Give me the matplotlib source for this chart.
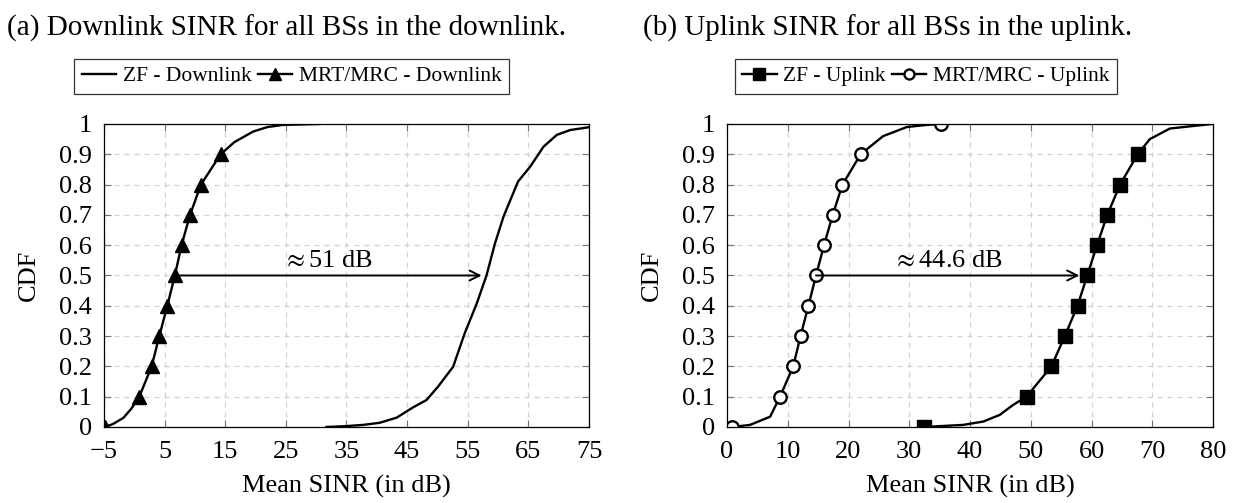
import matplotlib
matplotlib.use('Agg')
import matplotlib.pyplot as plt

plt.rcParams['font.family'] = ['Liberation Serif', 'DejaVu Serif']
plt.rcParams['mathtext.fontset'] = 'stix'

# (a) downlink curves
mrt_dl_x = [-4.8, -3.5, -1.8, -0.5, 0.83, 2.87, 4.13, 5.45, 6.7, 7.8, 9.2, 11.0, 14.25,
            16.5, 19.6, 22.0, 24.5, 30.6]
mrt_dl_y = [0, 0.01, 0.03, 0.06, 0.1, 0.2, 0.3, 0.4, 0.5, 0.6, 0.7, 0.8, 0.9,
            0.94, 0.975, 0.99, 0.997, 1.0]
mrt_dl_marks = [0, 4, 5, 6, 7, 8, 9, 10, 11, 12]

zf_dl_x = [31.7, 35.0, 37.8, 40.5, 43.3, 46.0, 48.2, 50.1, 52.6, 54.5, 56.5, 58.1,
           59.5, 60.9, 63.3, 65.3, 67.5, 69.7, 71.9, 74.9]
zf_dl_y = [0, 0.003, 0.007, 0.014, 0.031, 0.065, 0.089, 0.133, 0.199, 0.309, 0.408, 0.5,
           0.606, 0.694, 0.81, 0.859, 0.925, 0.964, 0.98, 0.989]

# (b) uplink curves
mrt_ul_x = [0.87, 3.8, 7.1, 8.72, 10.9, 12.1, 13.4, 14.65, 15.97, 17.4, 19.0, 22.0,
            25.7, 29.6, 32.9, 35.3]
mrt_ul_y = [0, 0.007, 0.034, 0.1, 0.2, 0.3, 0.4, 0.5, 0.6, 0.7, 0.8, 0.9,
            0.96, 0.99, 0.997, 1.0]
mrt_ul_marks = [0, 3, 4, 5, 6, 7, 8, 9, 10, 11, 15]

zf_ul_x = [32.4, 38.9, 42.2, 44.9, 47.1, 49.3, 53.4, 55.6, 57.7, 59.3, 60.9, 62.6, 64.7,
           67.6, 69.6, 72.9, 79.8]
zf_ul_y = [0, 0.007, 0.018, 0.04, 0.073, 0.1, 0.2, 0.3, 0.4, 0.5, 0.6, 0.7, 0.8,
           0.9, 0.95, 0.985, 1.0]
zf_ul_marks = [0, 5, 6, 7, 8, 9, 10, 11, 12, 13]

# gap arrows (start, end, level, label)
gap_dl = (6.7, 57.3, 0.5, r'$\approx$51 dB')
gap_ul = (14.65, 58.0, 0.5, r'$\approx$44.6 dB')

xticks_dl = [-5, 5, 15, 25, 35, 45, 55, 65, 75]
xticks_ul = [0, 10, 20, 30, 40, 50, 60, 70, 80]
yticks = [0, 0.1, 0.2, 0.3, 0.4, 0.5, 0.6, 0.7, 0.8, 0.9, 1]
ytick_labels = ['0', '0.1', '0.2', '0.3', '0.4', '0.5', '0.6', '0.7', '0.8', '0.9', '1']

fig = plt.figure(figsize=(12.36, 5.03), dpi=100)
ax1 = fig.add_axes([0.0841, 0.1511, 0.3924, 0.6024])
ax2 = fig.add_axes([0.5882, 0.1511, 0.3932, 0.6024])

lw = 1.7
l_zf_dl, = ax1.plot(zf_dl_x, zf_dl_y, color='k', lw=lw, label='ZF - Downlink')
l_mrt_dl, = ax1.plot(mrt_dl_x, mrt_dl_y, color='k', lw=lw, marker='^', ms=10,
                     markevery=mrt_dl_marks, label='MRT/MRC - Downlink')

l_zf_ul, = ax2.plot(zf_ul_x, zf_ul_y, color='k', lw=lw, marker='s', ms=10,
                    markevery=zf_ul_marks, label='ZF - Uplink')
l_mrt_ul, = ax2.plot(mrt_ul_x, mrt_ul_y, color='k', lw=lw, marker='o', ms=9,
                     mfc='white', mew=1.7, markevery=mrt_ul_marks, label='MRT/MRC - Uplink')

for ax, gap in ((ax1, gap_dl), (ax2, gap_ul)):
    x0, x1, lev, txt = gap
    ax.annotate('', xy=(x1, lev), xytext=(x0, lev),
                arrowprops=dict(arrowstyle='->', lw=1.4, color='k',
                                shrinkA=0, shrinkB=0, mutation_scale=18))
    ax.text((x0 + x1) / 2, lev + 0.01, txt, ha='center', va='bottom', fontsize=19)

for ax, xt in ((ax1, xticks_dl), (ax2, xticks_ul)):
    ax.set_xlim(xt[0], xt[-1])
    ax.set_ylim(0, 1)
    ax.set_xticks(xt)
    ax.set_yticks(yticks)
    ax.set_yticklabels(ytick_labels)
    ax.grid(True, color='0.82', ls=(0, (4, 4)), lw=0.9)
    ax.tick_params(direction='in', length=5, top=True, right=True, color='0.45',
                   labelsize=19)
    ax.tick_params(axis='x', pad=10)
    ax.tick_params(axis='y', pad=8.5)
    ax.set_xlabel('Mean SINR (in dB)', fontsize=19, labelpad=9)
    ax.set_ylabel('CDF', fontsize=19, labelpad=14)
    for s in ax.spines.values():
        s.set_linewidth(0.9)

fig.legend(handles=[l_zf_dl, l_mrt_dl], loc='center', bbox_to_anchor=(0.236, 0.848),
           ncol=2, fontsize=15.5, frameon=True, fancybox=False, edgecolor='k',
           handlelength=1.6, columnspacing=0.3, handletextpad=0.3, markerscale=0.8,
           borderpad=0.35, borderaxespad=0)
fig.legend(handles=[l_zf_ul, l_mrt_ul], loc='center', bbox_to_anchor=(0.749, 0.848),
           ncol=2, fontsize=15.5, frameon=True, fancybox=False, edgecolor='k',
           handlelength=1.6, columnspacing=0.3, handletextpad=0.3, markerscale=0.8,
           borderpad=0.35, borderaxespad=0)
for lg in fig.legends:
    lg.get_frame().set_linewidth(0.9)

fig.text(0.006, 0.944, '(a) Downlink SINR for all BSs in the downlink.', fontsize=21,
         ha='left', va='center')
fig.text(0.52, 0.944, '(b) Uplink SINR for all BSs in the uplink.', fontsize=21,
         ha='left', va='center')

fig.savefig('out.png', dpi=100)
